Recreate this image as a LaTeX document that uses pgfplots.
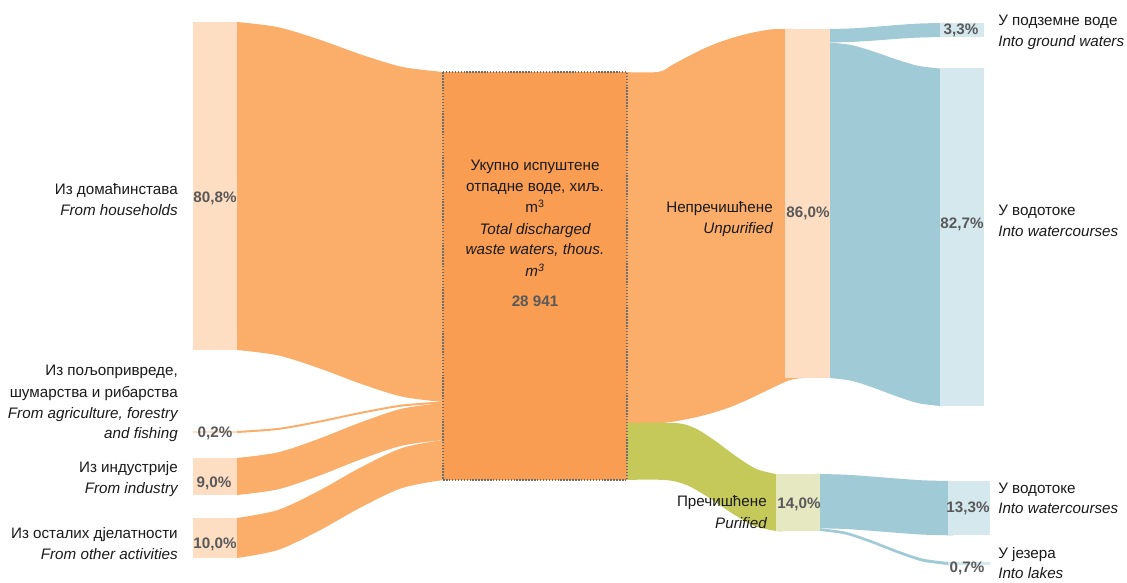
\documentclass[border=0pt]{standalone}
\usepackage{fontspec}
\setmainfont{Liberation Sans}
\usepackage{pgfplots}
\pgfplotsset{compat=1.18}
\usepgfplotslibrary{fillbetween}
\definecolor{orflow}{HTML}{FBAD6A}
\definecolor{orbox}{HTML}{F99D52}
\definecolor{orlight}{HTML}{FDDEC2}
\definecolor{grflow}{HTML}{C4C95A}
\definecolor{grlight}{HTML}{E6E8C2}
\definecolor{blflow}{HTML}{9FCAD6}
\definecolor{bllight}{HTML}{D4E8EE}
\definecolor{numgray}{HTML}{595959}
\definecolor{txt}{HTML}{1A1A1A}
\definecolor{boxline}{HTML}{6E6E6E}
\tikzset{
  lab/.style={font=\fontsize{11.4}{14}\selectfont, text=txt, inner sep=0pt},
  num/.style={font=\fontsize{11.4}{14}\selectfont\bfseries, text=numgray, inner sep=0pt, anchor=base},
}
\begin{document}
\begin{tikzpicture}
\begin{axis}[scale only axis, width=845.25pt, height=436.5pt,
  xmin=0, xmax=1127, ymin=0, ymax=582, y dir=reverse,
  hide axis, clip=false]
\path (0,0) rectangle (1127,582);
% ---------- flows into the total ----------
\addplot[draw=none, smooth, name path=h1] coordinates {(237,22)(278.2,27.2)(319.4,39.6)(360.6,54.4)(401.8,66.8)(443,72)(450,72)};
\addplot[draw=none, smooth, name path=h2] coordinates {(237,350)(278.2,355.4)(319.4,368.3)(360.6,383.7)(401.8,396.6)(443,402)(450,402)};
\addplot[fill=orflow, draw=none] fill between[of=h1 and h2];
\addplot[draw=none, smooth, name path=a1] coordinates {(237,431)(278.2,427.9)(319.4,420.6)(360.6,411.9)(401.8,404.6)(443,401.5)(450,401.5)};
\addplot[draw=none, smooth, name path=a2] coordinates {(237,433)(278.2,429.9)(319.4,422.6)(360.6,413.9)(401.8,406.6)(443,403.5)(450,403.5)};
\addplot[fill=orflow, draw=none] fill between[of=a1 and a2];
\addplot[draw=none, smooth, name path=i1] coordinates {(237,458)(278.2,452.3)(319.4,438.6)(360.6,422.4)(401.8,408.7)(443,403)(450,403)};
\addplot[draw=none, smooth, name path=i2] coordinates {(237,495)(278.2,489.3)(319.4,475.6)(360.6,459.4)(401.8,445.7)(443,440)(450,440)};
\addplot[fill=orflow, draw=none] fill between[of=i1 and i2];
\addplot[draw=none, smooth, name path=o1] coordinates {(237,518)(278.2,509.9)(319.4,490.5)(360.6,467.5)(401.8,448.1)(443,440)(450,440)};
\addplot[draw=none, smooth, name path=o2] coordinates {(237,558)(278.2,549.9)(319.4,530.5)(360.6,507.5)(401.8,488.1)(443,480)(450,480)};
\addplot[fill=orflow, draw=none] fill between[of=o1 and o2];
% ---------- flows out of the total ----------
\addplot[draw=none, smooth, name path=u1] coordinates {(620,72)(658,72)(672,65)(687,57)(703,49)(720,42)(737,36.5)(753,32.5)(770,29.5)(785,29)(795,29)};
\addplot[draw=none, smooth, name path=u2] coordinates {(620,423)(662,423)(697,417)(725,409)(747,400)(770,389)(790,380)(805,378)};
\addplot[fill=orflow, draw=none] fill between[of=u1 and u2];
\addplot[draw=none, smooth, name path=p1] coordinates {(620,423)(675,423)(695.2,428.3)(715.4,441)(735.6,456)(755.8,468.7)(776,474)(785,474)};
\addplot[draw=none, smooth, name path=p2] coordinates {(620,480)(665,480)(687.2,485.3)(709.4,498)(731.6,513)(753.8,525.7)(776,531)(785,531)};
\addplot[fill=grflow, draw=none] fill between[of=p1 and p2];
% ---------- second level ----------
\addplot[draw=none, smooth, name path=g1] coordinates {(825,29)(830,29)(852,28.4)(874,26.9)(896,25.1)(918,23.6)(940,23)(945,23)};
\addplot[draw=none, smooth, name path=g2] coordinates {(825,42.5)(830,42.5)(852,41.9)(874,40.6)(896,38.9)(918,37.6)(940,37)(945,37)};
\addplot[fill=blflow, draw=none] fill between[of=g1 and g2];
\addplot[draw=none, smooth, name path=w1] coordinates {(825,42.5)(830,42.5)(852,45.2)(874,51.7)(896,59.3)(918,65.8)(940,68.5)(945,68.5)};
\addplot[draw=none, smooth, name path=w2] coordinates {(825,378)(830,378)(852,380.9)(874,387.9)(896,396.1)(918,403.1)(940,406)(945,406)};
\addplot[fill=blflow, draw=none] fill between[of=w1 and w2];
\addplot[draw=none, smooth, name path=pw1] coordinates {(815,474)(820,474)(845.6,474.7)(871.2,476.5)(896.8,478.5)(922.4,480.3)(948,481)(953,481)};
\addplot[draw=none, smooth, name path=pw2] coordinates {(815,528.3)(820,528.3)(845.6,529)(871.2,530.8)(896.8,532.8)(922.4,534.6)(948,535.3)(953,535.3)};
\addplot[fill=blflow, draw=none] fill between[of=pw1 and pw2];
\addplot[draw=none, smooth, name path=l1] coordinates {(815,528.3)(820,528.3)(845.6,531.8)(871.2,540.2)(896.8,550.1)(922.4,558.5)(948,562)(953,562)};
\addplot[draw=none, smooth, name path=l2] coordinates {(815,531)(820,531)(845.6,534.5)(871.2,543)(896.8,553)(922.4,561.5)(948,565)(953,565)};
\addplot[fill=blflow, draw=none] fill between[of=l1 and l2];
% ---------- node bars ----------
\addplot[fill=orlight, draw=none] coordinates {(193,22)(237,22)(237,350)(193,350)} --cycle;
\addplot[fill=orlight, draw=none] coordinates {(193,431)(237,431)(237,433)(193,433)} --cycle;
\addplot[fill=orlight, draw=none] coordinates {(193,458)(237,458)(237,495)(193,495)} --cycle;
\addplot[fill=orlight, draw=none] coordinates {(193,518)(237,518)(237,558)(193,558)} --cycle;
\addplot[fill=orbox, draw=boxline, line width=1.1pt, dash pattern=on 1.1pt off 1.1pt] coordinates {(443,72)(627,72)(627,480)(443,480)} --cycle;
\addplot[fill=orlight, draw=none] coordinates {(785,29)(830,29)(830,378)(785,378)} --cycle;
\addplot[fill=grlight, draw=none] coordinates {(776,474)(820,474)(820,531)(776,531)} --cycle;
\addplot[fill=bllight, draw=none] coordinates {(940,23)(984,23)(984,37)(940,37)} --cycle;
\addplot[fill=bllight, draw=none] coordinates {(940,68.5)(984,68.5)(984,406)(940,406)} --cycle;
\addplot[fill=bllight, draw=none] coordinates {(948,481)(990,481)(990,535.3)(948,535.3)} --cycle;
\addplot[fill=bllight, draw=none] coordinates {(948,562)(990,562)(990,565)(948,565)} --cycle;
% ---------- labels ----------
\node[lab, anchor=base east] at (178,195) {Из домаћинстава};
\node[lab, anchor=base east] at (178,216) {\itshape From households};
\node[num] at (215,203) {80,8\%};
\node[lab, anchor=base east] at (178,376) {Из пољопривреде,};
\node[lab, anchor=base east] at (178,397) {шумарства и рибарства};
\node[lab, anchor=base east] at (178,418) {\itshape From agriculture, forestry};
\node[lab, anchor=base east] at (178,439) {\itshape and fishing};
\node[num] at (215,437) {0,2\%};
\node[lab, anchor=base east] at (178,472) {Из индустрије};
\node[lab, anchor=base east] at (178,493) {\itshape From industry};
\node[num] at (214,487) {9,0\%};
\node[lab, anchor=base east] at (178,538) {Из осталих дјелатности};
\node[lab, anchor=base east] at (178,559) {\itshape From other activities};
\node[num] at (215,548) {10,0\%};
% centre
\node[lab, anchor=base] at (535,171) {Укупно испуштене};
\node[lab, anchor=base] at (535,192) {отпадне воде, хиљ.};
\node[lab, anchor=base] at (535,213) {m\textsuperscript{3}};
\node[lab, anchor=base] at (535,235) {\itshape Total discharged};
\node[lab, anchor=base] at (535,255) {\itshape waste waters, thous.};
\node[lab, anchor=base] at (535,277) {\itshape m\textsuperscript{3}};
\node[num] at (535,307) {28 941};
% right
\node[lab, anchor=base east] at (773,213) {Непречишћене};
\node[lab, anchor=base east] at (773,234) {\itshape Unpurified};
\node[num] at (808,218) {86,0\%};
\node[num] at (961,35) {3,3\%};
\node[lab, anchor=base west] at (998,26) {У подземне воде};
\node[lab, anchor=base west] at (998,47) {\itshape Into ground waters};
\node[num] at (962,229) {82,7\%};
\node[lab, anchor=base west] at (998,216) {У водотоке};
\node[lab, anchor=base west] at (998,237) {\itshape Into watercourses};
\node[lab, anchor=base east] at (767,506) {Пречишћене};
\node[lab, anchor=base east] at (767,528) {\itshape Purified};
\node[num] at (799,508) {14,0\%};
\node[num] at (968,512) {13,3\%};
\node[lab, anchor=base west] at (998,493) {У водотоке};
\node[lab, anchor=base west] at (998,513) {\itshape Into watercourses};
\node[num] at (967,572) {0,7\%};
\node[lab, anchor=base west] at (998,558) {У језера};
\node[lab, anchor=base west] at (998,578) {\itshape Into lakes};
\end{axis}
\end{tikzpicture}
\end{document}
